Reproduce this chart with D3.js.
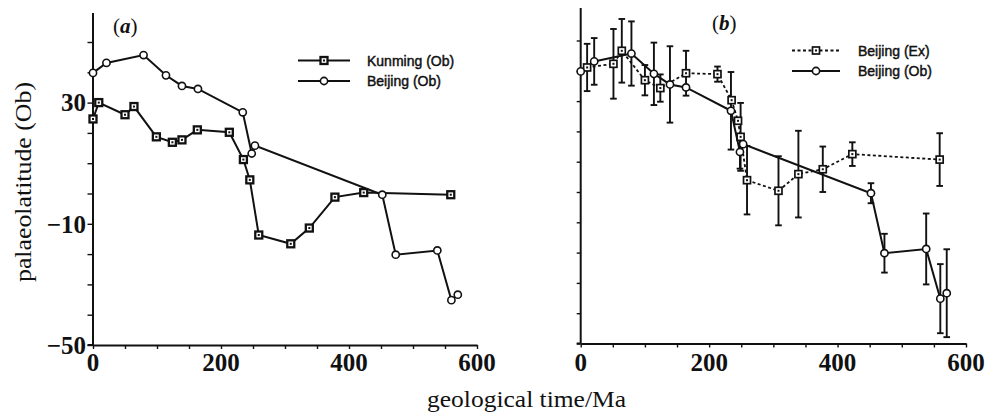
<!DOCTYPE html>
<html><head><meta charset="utf-8">
<script src="https://cdn.jsdelivr.net/npm/d3@7"></script>
<style>
body{margin:0;background:#fff}svg{display:block}
.serif{font-family:'Liberation Serif','Times New Roman',Times,serif}
.sans{font-family:'Liberation Sans',Arial,Helvetica,sans-serif}
</style>
</head><body>
<svg id="c" width="989" height="414"></svg>
<script>
// ---- data ----
const kunmingObTime = [0, 9, 50, 64, 99, 124, 139, 163, 213, 235, 245, 259, 309, 338, 378, 423, 559];
const kunmingObLat  = [24.6, 30, 26, 28.7, 18.7, 16.9, 17.7, 21, 20.2, 11.2, 4.5, -13.7, -16.6, -11.4, -1.2, 0.3, -0.4];

const beijingObTime = [0, 21, 79, 114, 139, 164, 234, 248, 253, 452, 473, 538, 560, 570];
const beijingObLat  = [39.8, 43.1, 45.7, 39.0, 35.5, 34.5, 26.8, 13.2, 15.8, -0.4, -20.2, -18.8, -35.2, -33.4];
const beijingObErr  = [null, 7.7, 10.6, 10.3, 12.6, null, 12.8, 5.5, null, 3.3, 6.4, 11.7, 11.4, 14.5];

const beijingExTime = [10, 51, 64, 100, 124, 164, 213, 235, 245, 249, 259, 308, 339, 377, 423, 559];
const beijingExLat  = [41.1, 42.3, 46.6, 36.9, 34.3, 39.2, 38.9, 30.3, 23.5, 18.2, 3.9, 0.4, 5.9, 7.5, 12.5, 10.7];
const beijingExErr  = [7.8, 11.5, 10.5, 5.0, 4.5, 7.4, 2.5, null, null, 11.2, 11.3, 11.4, 14.3, 7.5, 3.9, 8.7];

const xTickLabels = [0, 200, 400, 600];
const yTickLabels = [30, -10, -50];
const xMinorTicks = d3.range(0, 601, 50);
const yMinorTicks = d3.range(-50, 51, 10);

const series = (t, v, e) => t.map((d, i) => ({t: d, v: v[i], e: e ? e[i] : null}));

const svg = d3.select('#c');
svg.append('rect').attr('width', 989).attr('height', 414).attr('fill', '#fff');

const INK = '#111';

function drawSquare(g, x, y, heavy) {
  g.append('rect').attr('x', x - 3.5).attr('y', y - 3.5).attr('width', 7).attr('height', 7)
    .attr('fill', '#fff').attr('stroke', INK).attr('stroke-width', heavy ? 2.3 : 1.7);
  g.append('rect').attr('x', x - 1).attr('y', y - 1).attr('width', 2).attr('height', 2).attr('fill', INK);
}
function drawCircle(g, x, y) {
  g.append('circle').attr('cx', x).attr('cy', y).attr('r', 3.6)
    .attr('fill', '#fff').attr('stroke', INK).attr('stroke-width', 1.6);
}

function panel(opt) {
  const x = d3.scaleLinear().domain([0, 600]).range(opt.xr);
  const y = d3.scaleLinear().domain([-50, 60]).range(opt.yr);
  const g = svg.append('g');

  const xAxis = d3.axisBottom(x).tickValues(xMinorTicks).tickSizeInner(4).tickSizeOuter(0).tickFormat('');
  const gx = g.append('g').attr('transform', `translate(0,${y(-50)})`).call(xAxis);
  gx.select('.domain').attr('stroke', INK).attr('stroke-width', 2);
  gx.selectAll('.tick line').attr('stroke', INK).attr('stroke-width', 1.4);
  g.append('line').attr('x1', x(0) - opt.ytl).attr('x2', x(0)).attr('y1', y(-50)).attr('y2', y(-50))
    .attr('stroke', INK).attr('stroke-width', 2);

  const yAxis = d3.axisLeft(y).tickValues(yMinorTicks).tickSizeInner(opt.ytl).tickSizeOuter(0).tickFormat('');
  const gy = g.append('g').attr('transform', `translate(${x(0)},0)`).call(yAxis);
  gy.select('.domain').attr('stroke', INK).attr('stroke-width', 2)
    .attr('d', `M0,${y(-50)}V${opt.ytop}`);
  gy.selectAll('.tick line').attr('stroke', INK).attr('stroke-width', 1.4);

  g.selectAll('.xl').data(xTickLabels).join('text').attr('class', 'serif')
    .attr('x', d => x(d)).attr('y', 371).attr('text-anchor', 'middle')
    .attr('font-weight', 'bold').attr('font-size', 25).attr('fill', INK)
    .text(d => d);
  if (opt.yLabels) {
    g.selectAll('.yl').data(yTickLabels).join('text').attr('class', 'serif')
      .attr('x', x(0) - 7).attr('y', d => y(d)).attr('dy', '0.35em').attr('text-anchor', 'end')
      .attr('font-weight', 'bold').attr('font-size', 25).attr('fill', INK)
      .text(d => d < 0 ? '\u2212' + Math.abs(d) : d);
  }

  const tag = g.append('text').attr('class', 'serif').attr('x', opt.tag[0]).attr('y', opt.tag[1])
    .attr('font-size', 21).attr('fill', INK);
  tag.append('tspan').text('(');
  tag.append('tspan').attr('font-style', 'italic').attr('font-weight', 'bold').text(opt.tag[2]);
  tag.append('tspan').text(')');

  const line = d3.line().x(d => x(d.t)).y(d => y(d.v));

  opt.series.forEach(s => {
    s.data.filter(d => d.e != null).forEach(d => {
      const xx = x(d.t), y1 = y(d.v - d.e), y2 = y(d.v + d.e);
      g.append('line').attr('x1', xx).attr('x2', xx).attr('y1', y1).attr('y2', y2)
        .attr('stroke', INK).attr('stroke-width', 1.9);
      [y1, y2].forEach(yy => g.append('line').attr('x1', xx - 3.3).attr('x2', xx + 3.3)
        .attr('y1', yy).attr('y2', yy).attr('stroke', INK).attr('stroke-width', 1.9));
    });
  });
  opt.series.forEach(s => {
    g.append('path').datum(s.data).attr('d', line).attr('fill', 'none')
      .attr('stroke', INK).attr('stroke-width', s.dash ? 1.8 : 2)
      .attr('stroke-dasharray', s.dash ? '3,2.5' : null);
  });
  opt.series.forEach(s => {
    s.data.forEach(d => s.marker === 'sq' ? drawSquare(g, x(d.t), y(d.v), s.heavy) : drawCircle(g, x(d.t), y(d.v)));
  });

  opt.series.forEach((s, i) => {
    const ly = opt.leg.y[i];
    g.append('line').attr('x1', opt.leg.x1).attr('x2', opt.leg.x2).attr('y1', ly).attr('y2', ly)
      .attr('stroke', INK).attr('stroke-width', 1.8).attr('stroke-dasharray', s.dash ? '3,2.5' : null);
    const mx = (opt.leg.x1 + opt.leg.x2) / 2;
    s.marker === 'sq' ? drawSquare(g, mx, ly, s.heavy) : drawCircle(g, mx, ly);
    g.append('text').attr('class', 'sans').attr('x', opt.leg.tx).attr('y', ly).attr('dy', '0.36em')
      .attr('font-size', 14).attr('fill', INK)
      .attr('stroke', INK).attr('stroke-width', 0.45)
      .text(s.name);
  });
  return g;
}

panel({
  xr: [93, 477], yr: [345, 345 - 110 * 3.03], ytop: 13, ytl: 5.5, yLabels: true,
  tag: [113, 33, 'a'],
  leg: {x1: 298, x2: 350, tx: 367, y: [60.5, 81]},
  series: [
    {name: 'Kunming (Ob)', marker: 'sq', heavy: true, data: series(kunmingObTime, kunmingObLat)},
    {name: 'Beijing (Ob)', marker: 'ci', data: series(beijingObTime, beijingObLat)}
  ]
});

panel({
  xr: [580.7, 966], yr: [343.5, 343.5 - 110 * 3.03], ytop: 8, ytl: 4, yLabels: false,
  tag: [712, 30, 'b'],
  leg: {x1: 792, x2: 840, tx: 858, y: [50.5, 71]},
  series: [
    {name: 'Beijing (Ex)', marker: 'sq', dash: true, data: series(beijingExTime, beijingExLat, beijingExErr)},
    {name: 'Beijing (Ob)', marker: 'ci', data: series(beijingObTime, beijingObLat, beijingObErr)}
  ]
});

svg.append('text').attr('class', 'serif').attr('x', 427).attr('y', 407)
  .attr('font-size', 24).attr('fill', INK)
  .attr('textLength', 199).attr('lengthAdjust', 'spacingAndGlyphs')
  .text('geological time/Ma');
svg.append('text').attr('class', 'serif').attr('transform', 'translate(31,282) rotate(-90)')
  .attr('font-size', 24).attr('fill', INK)
  .attr('textLength', 200).attr('lengthAdjust', 'spacingAndGlyphs')
  .text('palaeolatitude (Ob)');
</script>
</body></html>
